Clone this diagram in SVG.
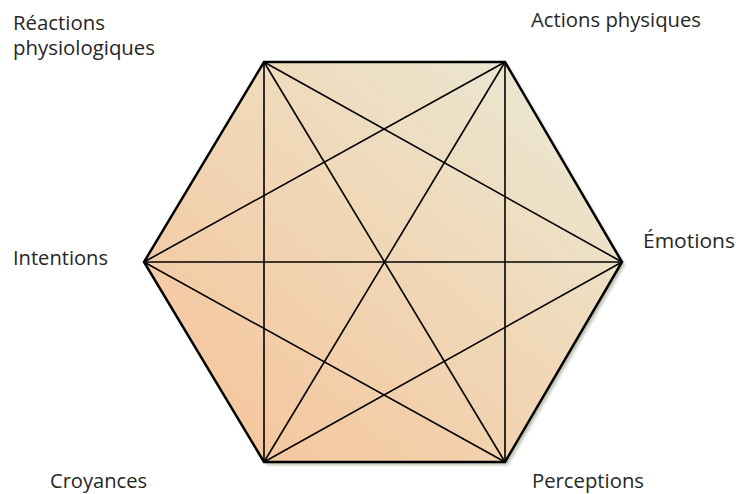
<svg xmlns="http://www.w3.org/2000/svg" width="736" height="494" viewBox="0 0 736 494">
<style>
.lbl{font-family:"Open Sans","Liberation Sans",sans-serif;font-size:19.5px;fill:#262626;}
.edge{stroke:#000;stroke-width:1.6;fill:none;}
.hex{stroke:#000;stroke-width:2.5;stroke-linejoin:miter;}
</style>
<defs>
<linearGradient id="g" x1="0" y1="1" x2="1" y2="0">
<stop offset="0" stop-color="#f6c298"/>
<stop offset="0.55" stop-color="#f0d8b8"/>
<stop offset="1" stop-color="#e9ebd8"/>
</linearGradient>
<filter id="sh" x="-10%" y="-10%" width="120%" height="120%">
<feGaussianBlur stdDeviation="1.5"/>
</filter>
</defs>
<g id="hexagon">
<polygon points="267,65 508,65 625,265 508,465 267,465 147,265" fill="#8f9a7c" opacity="0.6" filter="url(#sh)"/>
<polygon class="hex" points="264,62 505,62 622,262 505,462 264,462 144,262" fill="url(#g)"/>
</g>
<g id="connectors">
<line class="edge" x1="264" y1="62" x2="622" y2="262"/>
<line class="edge" x1="264" y1="62" x2="505" y2="462"/>
<line class="edge" x1="264" y1="62" x2="264" y2="462"/>
<line class="edge" x1="505" y1="62" x2="505" y2="462"/>
<line class="edge" x1="505" y1="62" x2="264" y2="462"/>
<line class="edge" x1="505" y1="62" x2="144" y2="262"/>
<line class="edge" x1="622" y1="262" x2="144" y2="262"/>
<line class="edge" x1="622" y1="262" x2="264" y2="462"/>
<line class="edge" x1="144" y1="262" x2="505" y2="462"/>
</g>
<g id="n-reactions"><text class="lbl" x="13" y="30" textLength="92" lengthAdjust="spacingAndGlyphs">Réactions</text><text class="lbl" x="13" y="55" textLength="142" lengthAdjust="spacingAndGlyphs">physiologiques</text></g>
<g id="n-actions"><text class="lbl" x="531" y="27" textLength="170" lengthAdjust="spacingAndGlyphs">Actions physiques</text></g>
<g id="n-emotions"><text class="lbl" x="643" y="248" textLength="92" lengthAdjust="spacingAndGlyphs">Émotions</text></g>
<g id="n-intentions"><text class="lbl" x="13" y="265" textLength="95" lengthAdjust="spacingAndGlyphs">Intentions</text></g>
<g id="n-croyances"><text class="lbl" x="50" y="488" textLength="97" lengthAdjust="spacingAndGlyphs">Croyances</text></g>
<g id="n-perceptions"><text class="lbl" x="532" y="488" textLength="112" lengthAdjust="spacingAndGlyphs">Perceptions</text></g>
</svg>
